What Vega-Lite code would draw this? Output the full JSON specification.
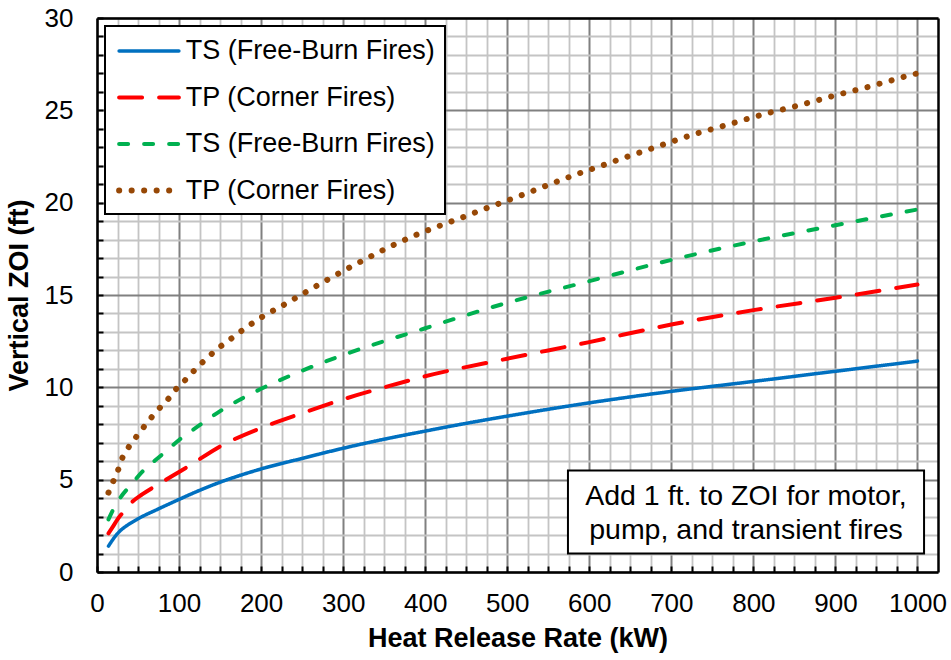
{
  "$schema": "https://vega.github.io/schema/vega-lite/v6.json",
  "width": 841,
  "height": 554,
  "autosize": {"type": "none"},
  "padding": {"left": 97, "top": 18, "right": 13, "bottom": 88},
  "background": "white",
  "config": {
    "view": {"stroke": null},
    "font": "Liberation Sans",
    "axis": {
      "labelFont": "Liberation Sans",
      "titleFont": "Liberation Sans",
      "labelColor": "black",
      "titleColor": "black",
      "tickColor": "black",
      "domainColor": "black"
    },
    "legend": {
      "orient": "top-left",
      "offset": 8,
      "padding": 10,
      "fillColor": "white",
      "strokeColor": "black",
      "symbolType": "M-2.3,0H2.3",
      "symbolSize": 676,
      "symbolOffset": 19,
      "labelFontSize": 27,
      "labelFont": "Liberation Sans",
      "labelColor": "black",
      "labelLimit": 400,
      "rowPadding": 18.5,
      "labelOffset": 21.7
    }
  },
  "datasets": {
    "curves": [
      {"series": "1", "hrr": 14, "zoi": 1.4},
      {"series": "1", "hrr": 20, "zoi": 1.8},
      {"series": "1", "hrr": 25, "zoi": 2.08},
      {"series": "1", "hrr": 30, "zoi": 2.3},
      {"series": "1", "hrr": 35, "zoi": 2.47},
      {"series": "1", "hrr": 50, "zoi": 2.88},
      {"series": "1", "hrr": 75, "zoi": 3.42},
      {"series": "1", "hrr": 100, "zoi": 3.93},
      {"series": "1", "hrr": 125, "zoi": 4.42},
      {"series": "1", "hrr": 150, "zoi": 4.86},
      {"series": "1", "hrr": 175, "zoi": 5.24},
      {"series": "1", "hrr": 200, "zoi": 5.58},
      {"series": "1", "hrr": 250, "zoi": 6.15},
      {"series": "1", "hrr": 300, "zoi": 6.7},
      {"series": "1", "hrr": 350, "zoi": 7.19},
      {"series": "1", "hrr": 400, "zoi": 7.63},
      {"series": "1", "hrr": 450, "zoi": 8.05},
      {"series": "1", "hrr": 500, "zoi": 8.44},
      {"series": "1", "hrr": 600, "zoi": 9.16},
      {"series": "1", "hrr": 700, "zoi": 9.78},
      {"series": "1", "hrr": 800, "zoi": 10.32},
      {"series": "1", "hrr": 900, "zoi": 10.87},
      {"series": "1", "hrr": 1000, "zoi": 11.42},
      {"series": "2", "hrr": 14, "zoi": 2.09},
      {"series": "2", "hrr": 20, "zoi": 2.5},
      {"series": "2", "hrr": 25, "zoi": 2.85},
      {"series": "2", "hrr": 32, "zoi": 3.25},
      {"series": "2", "hrr": 43, "zoi": 3.8},
      {"series": "2", "hrr": 55, "zoi": 4.2},
      {"series": "2", "hrr": 71, "zoi": 4.65},
      {"series": "2", "hrr": 85, "zoi": 5.02},
      {"series": "2", "hrr": 100, "zoi": 5.42},
      {"series": "2", "hrr": 112, "zoi": 5.74},
      {"series": "2", "hrr": 150, "zoi": 6.8},
      {"series": "2", "hrr": 200, "zoi": 7.8},
      {"series": "2", "hrr": 250, "zoi": 8.6},
      {"series": "2", "hrr": 300, "zoi": 9.35},
      {"series": "2", "hrr": 350, "zoi": 10.0},
      {"series": "2", "hrr": 400, "zoi": 10.6},
      {"series": "2", "hrr": 500, "zoi": 11.55},
      {"series": "2", "hrr": 600, "zoi": 12.45},
      {"series": "2", "hrr": 700, "zoi": 13.4},
      {"series": "2", "hrr": 800, "zoi": 14.18},
      {"series": "2", "hrr": 900, "zoi": 14.85},
      {"series": "2", "hrr": 1000, "zoi": 15.57},
      {"series": "3", "hrr": 14, "zoi": 2.85},
      {"series": "3", "hrr": 20, "zoi": 3.4},
      {"series": "3", "hrr": 27, "zoi": 3.93},
      {"series": "3", "hrr": 42, "zoi": 4.75},
      {"series": "3", "hrr": 59, "zoi": 5.6},
      {"series": "3", "hrr": 71, "zoi": 6.05},
      {"series": "3", "hrr": 83, "zoi": 6.5},
      {"series": "3", "hrr": 100, "zoi": 7.15},
      {"series": "3", "hrr": 125, "zoi": 7.95},
      {"series": "3", "hrr": 150, "zoi": 8.71},
      {"series": "3", "hrr": 200, "zoi": 9.92},
      {"series": "3", "hrr": 250, "zoi": 10.9},
      {"series": "3", "hrr": 300, "zoi": 11.75},
      {"series": "3", "hrr": 400, "zoi": 13.2},
      {"series": "3", "hrr": 500, "zoi": 14.58},
      {"series": "3", "hrr": 600, "zoi": 15.75},
      {"series": "3", "hrr": 700, "zoi": 16.9},
      {"series": "3", "hrr": 800, "zoi": 17.9},
      {"series": "3", "hrr": 900, "zoi": 18.78},
      {"series": "3", "hrr": 1000, "zoi": 19.63},
      {"series": "4", "hrr": 14, "zoi": 4.3},
      {"series": "4", "hrr": 20, "zoi": 4.93},
      {"series": "4", "hrr": 26, "zoi": 5.56},
      {"series": "4", "hrr": 31, "zoi": 6.19},
      {"series": "4", "hrr": 39, "zoi": 6.79},
      {"series": "4", "hrr": 48, "zoi": 7.33},
      {"series": "4", "hrr": 57, "zoi": 7.85},
      {"series": "4", "hrr": 66, "zoi": 8.35},
      {"series": "4", "hrr": 76, "zoi": 8.86},
      {"series": "4", "hrr": 87, "zoi": 9.38},
      {"series": "4", "hrr": 96, "zoi": 9.89},
      {"series": "4", "hrr": 107, "zoi": 10.37},
      {"series": "4", "hrr": 117, "zoi": 10.84},
      {"series": "4", "hrr": 128, "zoi": 11.33},
      {"series": "4", "hrr": 139, "zoi": 11.78},
      {"series": "4", "hrr": 151, "zoi": 12.23},
      {"series": "4", "hrr": 163, "zoi": 12.62},
      {"series": "4", "hrr": 175, "zoi": 13.02},
      {"series": "4", "hrr": 187, "zoi": 13.4},
      {"series": "4", "hrr": 200, "zoi": 13.78},
      {"series": "4", "hrr": 227, "zoi": 14.45},
      {"series": "4", "hrr": 253, "zoi": 15.12},
      {"series": "4", "hrr": 279, "zoi": 15.78},
      {"series": "4", "hrr": 305, "zoi": 16.42},
      {"series": "4", "hrr": 332, "zoi": 17.05},
      {"series": "4", "hrr": 360, "zoi": 17.68},
      {"series": "4", "hrr": 387, "zoi": 18.22},
      {"series": "4", "hrr": 416, "zoi": 18.72},
      {"series": "4", "hrr": 444, "zoi": 19.18},
      {"series": "4", "hrr": 472, "zoi": 19.66},
      {"series": "4", "hrr": 501, "zoi": 20.13},
      {"series": "4", "hrr": 529, "zoi": 20.6},
      {"series": "4", "hrr": 557, "zoi": 21.08},
      {"series": "4", "hrr": 586, "zoi": 21.56},
      {"series": "4", "hrr": 615, "zoi": 22.0},
      {"series": "4", "hrr": 643, "zoi": 22.44},
      {"series": "4", "hrr": 672, "zoi": 22.87},
      {"series": "4", "hrr": 701, "zoi": 23.31},
      {"series": "4", "hrr": 729, "zoi": 23.72},
      {"series": "4", "hrr": 759, "zoi": 24.1},
      {"series": "4", "hrr": 788, "zoi": 24.48},
      {"series": "4", "hrr": 817, "zoi": 24.84},
      {"series": "4", "hrr": 846, "zoi": 25.16},
      {"series": "4", "hrr": 876, "zoi": 25.52},
      {"series": "4", "hrr": 905, "zoi": 25.87},
      {"series": "4", "hrr": 935, "zoi": 26.21},
      {"series": "4", "hrr": 964, "zoi": 26.57},
      {"series": "4", "hrr": 993, "zoi": 26.93},
      {"series": "4", "hrr": 1000, "zoi": 27.0}
    ]
  },
  "layer": [
    {
      "data": {"values": [{}]},
      "mark": {"type": "rect", "fill": "white", "stroke": "black", "strokeWidth": 2},
      "encoding": {
        "x": {
          "datum": 574,
          "type": "quantitative",
          "scale": {"domain": [0, 1025], "nice": false, "zero": false},
          "axis": {
            "orient": "bottom",
            "values": [25, 50, 75, 125, 150, 175, 225, 250, 275, 325, 350, 375, 425, 450, 475, 525, 550, 575, 625, 650, 675, 725, 750, 775, 825, 850, 875, 925, 950, 975],
            "grid": true,
            "gridColor": "#C4C4C4",
            "gridWidth": 1.8,
            "labels": false,
            "domain": false,
            "ticks": false,
            "title": null,
            "zindex": 0
          }
        },
        "x2": {"datum": 1008},
        "y": {
          "datum": 5.5,
          "type": "quantitative",
          "scale": {"domain": [0, 30], "nice": false},
          "axis": {
            "orient": "left",
            "values": [1, 2, 3, 4, 6, 7, 8, 9, 11, 12, 13, 14, 16, 17, 18, 19, 21, 22, 23, 24, 26, 27, 28, 29],
            "grid": true,
            "gridColor": "#C4C4C4",
            "gridWidth": 1.8,
            "labels": false,
            "domain": false,
            "ticks": false,
            "title": null,
            "zindex": 0
          }
        },
        "y2": {"datum": 1.0}
      }
    },
    {
      "data": {"name": "curves"},
      "mark": {
        "type": "line",
        "interpolate": "monotone",
        "strokeCap": "round",
        "strokeJoin": "round",
        "strokeWidth": {"expr": "(datum.series == '4' ? 6 : datum.series == '1' ? 3.5 : 4)"}
      },
      "encoding": {
        "x": {
          "field": "hrr",
          "type": "quantitative",
          "scale": {"domain": [0, 1025], "nice": false, "zero": false},
          "axis": {
            "orient": "bottom",
            "values": [0, 100, 200, 300, 400, 500, 600, 700, 800, 900, 1000],
            "format": "d",
            "grid": true,
            "gridColor": "#808080",
            "gridWidth": 2,
            "domain": false,
            "ticks": true,
            "tickSize": -6,
            "tickOpacity": 0,
            "labelFontSize": 26,
            "labelPadding": 24,
            "labelFlush": false,
            "labelOverlap": false,
            "title": "Heat Release Rate (kW)",
            "titleFontSize": 27,
            "titleFontWeight": "bold",
            "titlePadding": 9,
            "zindex": 0
          }
        },
        "y": {
          "field": "zoi",
          "type": "quantitative",
          "scale": {"domain": [0, 30], "nice": false},
          "axis": {
            "orient": "left",
            "values": [0, 5, 10, 15, 20, 25, 30],
            "grid": true,
            "gridColor": "#808080",
            "gridWidth": 2,
            "domain": false,
            "ticks": true,
            "tickSize": -6,
            "tickOpacity": 0,
            "labelFontSize": 26,
            "labelPadding": 30,
            "labelFlush": false,
            "labelOverlap": false,
            "title": "Vertical ZOI (ft)",
            "titleFontSize": 27,
            "titleFontWeight": "bold",
            "titlePadding": 11,
            "zindex": 0
          }
        },
        "color": {
          "field": "series",
          "type": "nominal",
          "scale": {"domain": ["1", "2", "3", "4"], "range": ["#0070C0", "#FF0000", "#00B050", "#974806"]},
          "legend": {
            "title": null,
            "labelExpr": "datum.value == '1' || datum.value == '3' ? 'TS (Free-Burn Fires)' : 'TP (Corner Fires)'",
            "encode": {
              "symbols": {"update": {"strokeCap": {"value": "round"}, "strokeWidth": {"signal": "(datum.value == '4' ? 6 : datum.value == '1' ? 3.5 : 4)"}}},
              "legend": {"update": {"strokeWidth": {"value": 2}}}
            }
          }
        },
        "strokeDash": {
          "field": "series",
          "type": "nominal",
          "scale": {"domain": ["1", "2", "3", "4"], "range": [[1, 0], [23, 17], [9, 16], [0.1, 12.4]]},
          "legend": {
            "title": null,
            "labelExpr": "datum.value == '1' || datum.value == '3' ? 'TS (Free-Burn Fires)' : 'TP (Corner Fires)'",
            "encode": {
              "symbols": {"update": {"strokeCap": {"value": "round"}, "strokeWidth": {"signal": "(datum.value == '4' ? 6 : datum.value == '1' ? 3.5 : 4)"}}},
              "legend": {"update": {"strokeWidth": {"value": 2}}}
            }
          }
        }
      }
    },
    {
      "data": {"values": [{}]},
      "mark": {
        "type": "text",
        "text": "Add 1 ft. to ZOI for motor,",
        "font": "Liberation Sans",
        "fontSize": 28.5,
        "align": "center",
        "baseline": "middle",
        "color": "black"
      },
      "encoding": {
        "x": {
          "datum": 791,
          "type": "quantitative",
          "scale": {"domain": [0, 1025], "nice": false, "zero": false},
          "axis": {
            "orient": "bottom",
            "values": [0, 25, 50, 75, 100, 125, 150, 175, 200, 225, 250, 275, 300, 325, 350, 375, 400, 425, 450, 475, 500, 525, 550, 575, 600, 625, 650, 675, 700, 725, 750, 775, 800, 825, 850, 875, 900, 925, 950, 975, 1000],
            "grid": false,
            "labels": false,
            "ticks": true,
            "tickSize": -6,
            "tickWidth": 2,
            "domain": true,
            "domainWidth": 2.5,
            "title": null,
            "zindex": 1
          }
        },
        "y": {
          "datum": 4.1,
          "type": "quantitative",
          "scale": {"domain": [0, 30], "nice": false},
          "axis": {
            "orient": "left",
            "values": [0, 1, 2, 3, 4, 5, 6, 7, 8, 9, 10, 11, 12, 13, 14, 15, 16, 17, 18, 19, 20, 21, 22, 23, 24, 25, 26, 27, 28, 29, 30],
            "grid": false,
            "labels": false,
            "ticks": true,
            "tickSize": -6,
            "tickWidth": 2,
            "domain": true,
            "domainWidth": 2.5,
            "title": null,
            "zindex": 1
          }
        }
      }
    },
    {
      "data": {"values": [{}]},
      "mark": {
        "type": "text",
        "text": "pump, and transient  fires",
        "font": "Liberation Sans",
        "fontSize": 28.5,
        "align": "center",
        "baseline": "middle",
        "color": "black"
      },
      "encoding": {
        "x": {
          "datum": 791,
          "type": "quantitative",
          "scale": {"domain": [0, 1025], "nice": false, "zero": false},
          "axis": {"orient": "top", "values": [], "grid": false, "labels": false, "ticks": false, "domain": true, "domainWidth": 2.5, "title": null, "zindex": 1}
        },
        "y": {
          "datum": 2.26,
          "type": "quantitative",
          "scale": {"domain": [0, 30], "nice": false},
          "axis": {"orient": "right", "values": [], "grid": false, "labels": false, "ticks": false, "domain": true, "domainWidth": 2.5, "title": null, "zindex": 1}
        }
      }
    }
  ],
  "resolve": {"axis": {"x": "independent", "y": "independent"}}
}
